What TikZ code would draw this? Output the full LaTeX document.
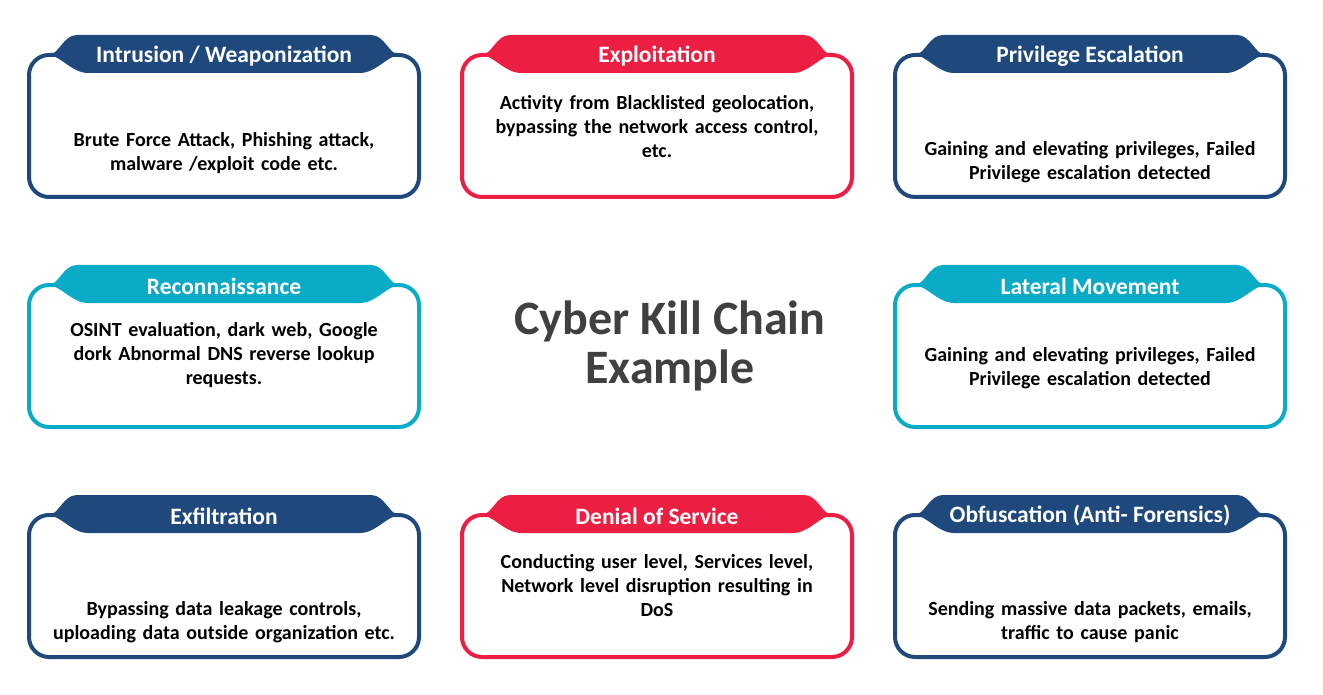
\documentclass[tikz,border=0pt]{standalone}
\usepackage{fontspec}
\setmainfont{Carlito}
\usetikzlibrary{calc}
\definecolor{ckNavy}{HTML}{1F497D}
\definecolor{ckRed}{HTML}{EC1F42}
\definecolor{ckCyan}{HTML}{0AABC7}
\definecolor{ckGray}{HTML}{404040}
\tikzset{
  card/.style={rounded corners=20pt, line width=4pt, minimum width=390pt, minimum height=142pt, inner sep=0pt, fill=white},
  tabtitle/.style={text=white, font=\fontsize{23.5}{26}\selectfont\bfseries, inner sep=0pt},
  cardbody/.style={text=black, font=\fontsize{20}{24}\selectfont\bfseries, align=center, text width=385pt, inner sep=0pt},
  maintitle/.style={text=ckGray, font=\fontsize{48}{49}\selectfont\bfseries, align=center, inner sep=0pt}
}
% #1 name, #2 left, #3 top, #4 colour, #5 title, #6 body, #7 body centre y
\newcommand\kcard[7]{%
  \node[card, draw=#4] (#1) at (#2+197, #3+73) {};
  \fill[#4] (#2+21, #3+2) .. controls (#2+32, #3+2) and (#2+36, #3-18) .. (#2+50, #3-18)
     -- (#2+344, #3-18) .. controls (#2+358, #3-18) and (#2+362, #3+2) .. (#2+373, #3+2)
     .. controls (#2+361, #3+2) and (#2+349, #3+20) .. (#2+333, #3+20)
     -- (#2+61, #3+20) .. controls (#2+45, #3+20) and (#2+33, #3+2) .. (#2+21, #3+2) -- cycle;
  \node[tabtitle] (#1-title) at (#2+197, #3+3) {#5};
  \node[cardbody] (#1-body) at (#2+197, #7+2) {#6};
}
\begin{document}
\begin{tikzpicture}[x=1pt,y=-1pt]
\useasboundingbox (0,0) rectangle (1323,695);
\kcard{intr}{27}{53}{ckNavy}{Intrusion / Weaponization}{Brute Force Attack, Phishing attack,\\ malware /exploit code etc.}{151}
\kcard{expl}{460}{53}{ckRed}{Exploitation}{Activity from Blacklisted geolocation,\\ bypassing the network access control,\\ etc.}{125}
\kcard{priv}{893}{53}{ckNavy}{Privilege Escalation}{Gaining and elevating privileges, Failed\\ Privilege escalation detected}{160}
\kcard{reco}{27}{283}{ckCyan}{Reconnaissance}{OSINT evaluation, dark web, Google\\ dork Abnormal DNS reverse lookup\\ requests.}{353}
\kcard{late}{893}{283}{ckCyan}{Lateral Movement}{Gaining and elevating privileges, Failed\\ Privilege escalation detected}{366}
\kcard{exfi}{27}{513}{ckNavy}{Exfiltration}{Bypassing data leakage controls,\\ uploading data outside organization etc.}{620}
\kcard{deni}{460}{513}{ckRed}{Denial of Service}{Conducting user level, Services level,\\ Network level disruption resulting in\\ DoS}{584}
\kcard{obfu}{893}{513}{ckNavy}{Obfuscation (Anti- Forensics)}{Sending massive data packets, emails,\\ traffic to cause panic}{620}
\node[maintitle] (title) at (670,345.5) {Cyber Kill Chain\\ Example};
\end{tikzpicture}
\end{document}
